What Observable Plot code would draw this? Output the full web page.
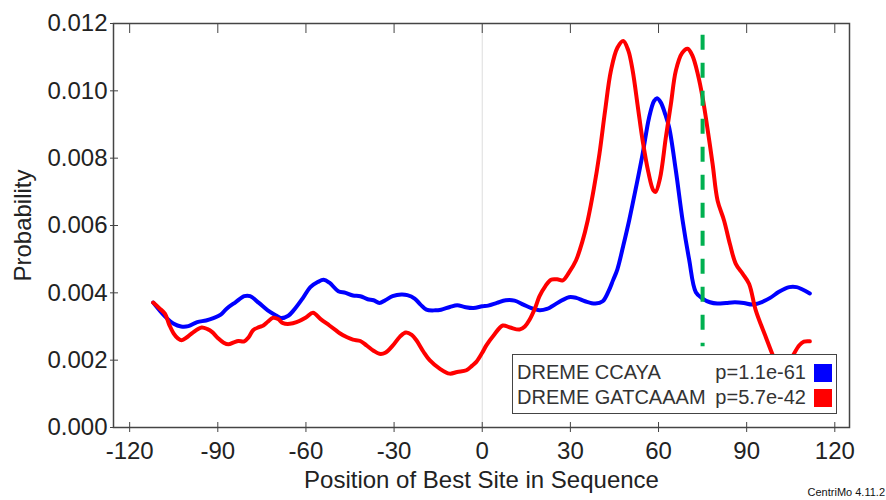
<!DOCTYPE html>
<html>
<head>
<meta charset="utf-8">
<script src="https://cdn.jsdelivr.net/npm/d3@7"></script>
<script src="https://cdn.jsdelivr.net/npm/@observablehq/plot@0.6"></script>
<style>
  html, body { margin: 0; padding: 0; background: #fff; }
  #wrap { position: relative; width: 886px; height: 500px; font-family: "Liberation Sans", Arial, sans-serif; }
  #legend { position: absolute; left: 512px; top: 354px; width: 325px; height: 60px; box-sizing: border-box;
    border: 1.5px solid #444; background: #fff; padding: 5px 4px 0 4px; font-size: 20px; color: #333; }
  .row { display: flex; align-items: center; height: 25px; line-height: 25px; white-space: nowrap; }
  .name { flex: 1; }
  .pv { text-align: right; }
  .sw { width: 18px; height: 18px; margin-left: 8px; }
  #credit { position: absolute; right: 1px; bottom: 2px; font-size: 11px; color: #111; }
</style>
</head>
<body>
<div id="wrap"><div id="chart"></div><div id="legend"></div><div id="credit"></div></div>
<script>
// ---- data ----
const blueX = [-112,-108,-105,-102.5,-100,-97,-94,-91.5,-89,-87,-84,-81,-79,-76,-73,-70,-68.5,-66,-64,-61,-58.5,-56,-54,-52,-49,-46.5,-44,-41.5,-39,-37,-35,-33,-30.5,-27.5,-25.5,-23,-21,-19,-16,-14,-11,-8.5,-6,-3,0,2,5,8,11,14,16.5,19.5,22,26,29.5,32,35,38.5,41,43,44.5,46,48,50,52.5,54.6,56.8,58.5,59.5,60.8,62.3,63.6,65.9,68.2,70.4,72.7,75,77.5,80,83,86,89,92,95,98,101,104.5,107,109,111.5];
const blueY = [0.00371,0.00330,0.00308,0.00300,0.00301,0.00313,0.00318,0.00325,0.00335,0.00353,0.00372,0.00390,0.00390,0.00370,0.00348,0.00332,0.00325,0.00332,0.00350,0.00385,0.00417,0.00432,0.00439,0.00430,0.00405,0.00400,0.00392,0.00390,0.00381,0.00378,0.00370,0.00378,0.00390,0.00395,0.00393,0.00383,0.00365,0.00350,0.00348,0.00350,0.00358,0.00363,0.00358,0.00355,0.00360,0.00362,0.00370,0.00378,0.00377,0.00365,0.00355,0.00348,0.00352,0.00372,0.00387,0.00385,0.00375,0.00368,0.00375,0.00405,0.00437,0.00470,0.00540,0.00615,0.00720,0.00813,0.00921,0.00970,0.00978,0.00965,0.00930,0.00892,0.00763,0.00615,0.00500,0.00402,0.00383,0.00372,0.00368,0.00370,0.00372,0.00370,0.00365,0.00372,0.00385,0.00403,0.00417,0.00417,0.00410,0.00398];
const redX = [-112,-110,-108,-106.5,-105,-103.5,-102.3,-100.5,-98.5,-95.5,-93.5,-92,-90,-88,-86.4,-84.5,-83,-81,-79.5,-78,-76,-74.5,-73,-71.2,-69.5,-67.8,-65.5,-63.2,-60,-57.6,-55,-52,-50,-48.5,-46,-44,-41.5,-39.4,-37,-35,-33,-30.4,-28,-26,-24,-22.4,-20,-17.9,-14.5,-11.1,-8.5,-5.4,-3.5,-2,0,1.4,4,7,9.5,12.7,14.5,16.1,18,19.5,21.5,23.4,25.5,27.4,29.5,31.9,34,35.9,38,39.9,41.8,43.8,46,48,49.7,51.2,53,54.6,56.5,58.2,59,60.5,62.5,64.2,65.9,68,69.9,71.5,73.5,75,76.1,78.4,80.1,82.3,84.3,86.3,88.6,90.8,93.1,96.5,98.7,100.5,102.5,104.5,106.1,108,109.5,111.5];
const redY = [0.00371,0.00355,0.00338,0.00305,0.00279,0.00264,0.00259,0.00268,0.00282,0.00297,0.00292,0.00284,0.00266,0.00252,0.00247,0.00253,0.00257,0.00256,0.00268,0.00289,0.00298,0.00303,0.00314,0.00326,0.00322,0.00310,0.00308,0.00313,0.00327,0.00341,0.00322,0.00303,0.00290,0.00280,0.00268,0.00261,0.00257,0.00244,0.00228,0.00219,0.00222,0.00244,0.00270,0.00282,0.00275,0.00259,0.00225,0.00200,0.00175,0.00160,0.00165,0.00170,0.00183,0.00195,0.00222,0.00244,0.00275,0.00303,0.00297,0.00291,0.00300,0.00320,0.00355,0.00390,0.00420,0.00439,0.00440,0.00437,0.00460,0.00496,0.00550,0.00615,0.00710,0.00813,0.00940,0.01060,0.01128,0.01148,0.01120,0.01060,0.00950,0.00852,0.00760,0.00705,0.00700,0.00740,0.00862,0.00960,0.01060,0.01112,0.01125,0.01105,0.01045,0.00980,0.00921,0.00783,0.00674,0.00615,0.00545,0.00486,0.00457,0.00427,0.00348,0.00269,0.00219,0.00185,0.00170,0.00190,0.00219,0.00245,0.00255,0.00256];
const seriesNames = ["DREME CCAYA", "DREME GATCAAAM"];
const seriesP = ["p=1.1e-61", "p=5.7e-42"];
const seriesColors = ["#0000ff", "#ff0000"];
const markerPos = [75];
const markerSpan = [0.01165, 0.0024];
const xTicks = [-120, -90, -60, -30, 0, 30, 60, 90, 120];
const yTicks = [0, 0.002, 0.004, 0.006, 0.008, 0.010, 0.012];
const xLabel = "Position of Best Site in Sequence";
const yLabel = "Probability";
const credit = "CentriMo 4.11.2";

// ---- build ----
const blue = blueX.map((x, i) => ({x, y: blueY[i]}));
const red = redX.map((x, i) => ({x, y: redY[i]}));
const marker = markerPos.map(x => ({x, y1: markerSpan[0], y2: markerSpan[1]}));

const chart = Plot.plot({
  width: 886, height: 500,
  marginLeft: 113, marginRight: 37, marginTop: 23, marginBottom: 73,
  x: {domain: [-125.5, 125]},
  y: {domain: [0, 0.012]},
  style: {fontFamily: "'Liberation Sans', Arial, sans-serif", fontSize: "24px", color: "#222", background: "white", overflow: "visible"},
  marks: [
    Plot.ruleX([0], {stroke: "#ddd", strokeWidth: 1}),
    Plot.line(blue, {x: "x", y: "y", stroke: seriesColors[0], strokeWidth: 4, curve: "catmull-rom"}),
    Plot.line(red, {x: "x", y: "y", stroke: seriesColors[1], strokeWidth: 4, curve: "catmull-rom"}),
    Plot.ruleX(marker, {x: "x", y1: "y1", y2: "y2", stroke: "#00b050", strokeWidth: 4, strokeDasharray: "15,13"}),
    Plot.frame({stroke: "#444", strokeWidth: 1.5}),
    Plot.axisY(yTicks, {anchor: "left", tickSize: 8, dx: 5, tickPadding: 3, tickFormat: d => d.toFixed(3), stroke: "#444",
      label: yLabel, labelAnchor: "center", labelArrow: "none", labelOffset: 100}),
    Plot.axisX(xTicks, {anchor: "bottom", tickSize: 10, dy: -5, tickPadding: 9, stroke: "#444", tickFormat: d => String(d),
      label: xLabel, labelAnchor: "center", labelArrow: "none", labelOffset: 60}),
    Plot.axisX(xTicks, {anchor: "top", tickSize: 9, dy: 9, text: null, label: null, stroke: "#444"})
  ]
});
document.getElementById("chart").appendChild(chart);

const legend = document.getElementById("legend");
seriesNames.forEach((n, i) => {
  const row = document.createElement("div");
  row.className = "row";
  row.innerHTML = `<span class="name">${n}</span><span class="pv">${seriesP[i]}</span><span class="sw" style="background:${seriesColors[i]}"></span>`;
  legend.appendChild(row);
});
document.getElementById("credit").textContent = credit;
</script>
</body>
</html>
